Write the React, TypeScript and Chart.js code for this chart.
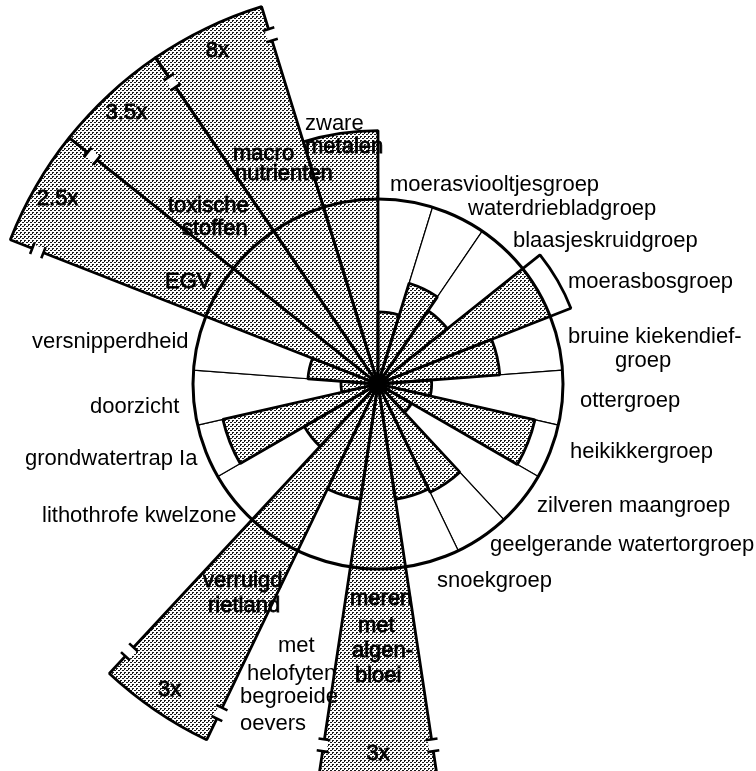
import React, { useEffect, useRef } from "react";
import { Chart, registerables } from "chart.js";

Chart.register(...registerables);

// Categories, clockwise starting at the top (12 o'clock)
const groups = [
  "moerasviooltjesgroep",
  "waterdriebladgroep",
  "blaasjeskruidgroep",
  "moerasbosgroep",
  "bruine kiekendiefgroep",
  "ottergroep",
  "heikikkergroep",
  "zilveren maangroep",
  "geelgerande watertorgroep",
  "snoekgroep",
  "meren met algenbloei",
  "met helofyten begroeide oevers",
  "verruigd rietland",
  "lithothrofe kwelzone",
  "grondwatertrap Ia",
  "doorzicht",
  "versnipperdheid",
  "EGV",
  "toxische stoffen",
  "macro nutrienten",
  "zware metalen",
];

// Values relative to the reference level (circle = 1)
const values = [
  0.39, 0.57, 0.48, 1.12, 0.66, 0.29, 0.87, 0.21, 0.65, 0.63,
  3, 0.63, 3, 0.46, 0.86, 0.2, 0.38, 2.5, 3.5, 8, 1.37,
];

// Label text lines per category
const labelLines = [
  ["moerasviooltjesgroep"],
  ["waterdriebladgroep"],
  ["blaasjeskruidgroep"],
  ["moerasbosgroep"],
  ["bruine kiekendief-", "groep"],
  ["ottergroep"],
  ["heikikkergroep"],
  ["zilveren maangroep"],
  ["geelgerande watertorgroep"],
  ["snoekgroep"],
  ["meren", "met", "algen-", "bloei"],
  ["met", "helofyten", "begroeide", "oevers"],
  ["verruigd", "rietland"],
  ["lithothrofe kwelzone"],
  ["grondwatertrap Ia"],
  ["doorzicht"],
  ["versnipperdheid"],
  ["EGV"],
  ["toxische", "stoffen"],
  ["macro", "nutrienten"],
  ["zware", "metalen"],
];

// Categories whose part beyond the reference circle is drawn unshaded
const unshadedOverflow = ["moerasbosgroep"];

const REFERENCE = 1;
const SCALE_MAX = 2;
const DISPLAY_CAP = 2.135; // bars beyond this are cut with a break mark
const BREAK_AT = 1.975;
const MULTIPLIER_AT = 2.0;

// ---- layout (pixel anchors for label lines: left x, baseline y) ----
const labelAnchors = [
  [[390, 191]],
  [[468, 215]],
  [[513, 247]],
  [[568, 288]],
  [[568, 343], [615, 367]],
  [[580, 407]],
  [[570, 458]],
  [[537, 512]],
  [[490, 551]],
  [[437, 587]],
  [[350, 605], [358, 632], [352, 657], [355, 682]],
  [[278, 652], [247, 680], [240, 703], [240, 730]],
  [[203, 587], [208, 612]],
  [[42, 522]],
  [[25, 465]],
  [[90, 413]],
  [[32, 348]],
  [[165, 288]],
  [[168, 212], [182, 235]],
  [[233, 160], [235, 180]],
  [[305, 130], [305, 153]],
];

const FONT_FAMILY = '"Liberation Sans", Arial, Helvetica, sans-serif';
const FONT_SIZE = 22;

function makeHalftone(ctx: CanvasRenderingContext2D) {
  const c = document.createElement("canvas");
  c.width = 4;
  c.height = 4;
  const g = c.getContext("2d")!;
  g.fillStyle = "#ffffff";
  g.fillRect(0, 0, 4, 4);
  g.fillStyle = "#1a1a1a";
  [
    [0, 0],
    [1, 0],
    [0, 1],
    [2, 2],
    [3, 2],
  ].forEach(([x, y]) => g.fillRect(x, y, 1, 1));
  return ctx.createPattern(c, "repeat")!;
}

function makeAnnotationPlugin(shaded: number[]) {
  return {
    id: "amoebeAnnotations",
    afterDatasetsDraw(chart: any) {
      const ctx: CanvasRenderingContext2D = chart.ctx;
      const s = chart.scales.r;
      const cx = s.xCenter;
      const cy = s.yCenter;
      const n = groups.length;
      const step = (2 * Math.PI) / n;
      const start = s.getIndexAngle(0) - Math.PI / 2;

      // break marks on bars that exceed the display cap
      const rb = s.getDistanceFromCenterForValue(BREAK_AT);
      const gap = 6;
      values.forEach((v, i) => {
        if (v <= DISPLAY_CAP) return;
        [start + i * step, start + (i + 1) * step].forEach((a) => {
          ctx.save();
          ctx.translate(cx, cy);
          ctx.rotate(a);
          ctx.fillStyle = "#fff";
          ctx.fillRect(rb - gap, -4, 2 * gap, 8);
          ctx.strokeStyle = "#000";
          ctx.lineWidth = 2.6;
          ctx.beginPath();
          ctx.moveTo(rb - gap, -6);
          ctx.lineTo(rb - gap, 6);
          ctx.moveTo(rb + gap, -6);
          ctx.lineTo(rb + gap, 6);
          ctx.stroke();
          ctx.restore();
        });
      });

      // multiplier labels (e.g. "8x")
      const rm = s.getDistanceFromCenterForValue(MULTIPLIER_AT);
      ctx.save();
      ctx.fillStyle = "#000";
      ctx.strokeStyle = "#000";
      ctx.lineWidth = 0.8;
      ctx.textAlign = "center";
      ctx.textBaseline = "middle";
      ctx.font = `${FONT_SIZE}px ${FONT_FAMILY}`;
      values.forEach((v, i) => {
        if (v <= DISPLAY_CAP) return;
        const a = start + (i + 0.5) * step;
        const x = cx + rm * Math.cos(a);
        const y = cy + rm * Math.sin(a);
        ctx.fillText(`${v}x`, x, y);
        ctx.strokeText(`${v}x`, x, y);
      });
      ctx.restore();

      // category labels; heavier when lying on a shaded bar
      const onShade = (x: number, y: number) => {
        const dx = x - cx;
        const dy = y - cy;
        const r = Math.hypot(dx, dy);
        let a = Math.atan2(dy, dx) - start;
        a = ((a % (2 * Math.PI)) + 2 * Math.PI) % (2 * Math.PI);
        const idx = Math.floor(a / step) % n;
        return r < s.getDistanceFromCenterForValue(shaded[idx]);
      };
      ctx.save();
      ctx.fillStyle = "#000";
      ctx.strokeStyle = "#000";
      ctx.lineWidth = 0.8;
      ctx.textAlign = "left";
      ctx.textBaseline = "alphabetic";
      ctx.font = `${FONT_SIZE}px ${FONT_FAMILY}`;
      labelLines.forEach((lines, i) => {
        lines.forEach((txt, j) => {
          const [x, y] = labelAnchors[i][j];
          const w = ctx.measureText(txt).width;
          ctx.fillText(txt, x, y);
          if (onShade(x + w / 2, y - 7)) ctx.strokeText(txt, x, y);
        });
      });
      ctx.restore();
    },
  };
}

export default function App() {
  const ref = useRef<HTMLCanvasElement>(null);

  useEffect(() => {
    const canvas = ref.current;
    if (!canvas) return;
    const ctx = canvas.getContext("2d")!;
    const pattern = makeHalftone(ctx);

    const displayed = values.map((v) => Math.min(v, DISPLAY_CAP));
    const shaded = values.map((v, i) =>
      unshadedOverflow.includes(groups[i]) ? Math.min(v, REFERENCE) : Math.min(v, DISPLAY_CAP)
    );

    const chart = new Chart(canvas, {
      type: "polarArea",
      data: {
        labels: groups,
        datasets: [
          {
            label: "outline",
            data: displayed,
            backgroundColor: "rgba(0,0,0,0)",
            borderColor: "#000",
            borderWidth: 2.8,
            clip: false,
          },
          {
            label: "shaded",
            data: shaded,
            backgroundColor: pattern,
            borderWidth: 0,
            clip: false,
          },
          {
            label: "reference",
            data: groups.map(() => REFERENCE),
            backgroundColor: "#fff",
            borderColor: "#000",
            borderWidth: 1.2,
            clip: false,
          },
        ],
      } as any,
      options: {
        responsive: false,
        animation: false,
        devicePixelRatio: 1,
        events: [],
        layout: { padding: { left: 8, right: 8, top: 14, bottom: 17 } },
        plugins: {
          legend: { display: false },
          tooltip: { enabled: false },
        },
        scales: {
          r: {
            min: 0,
            max: SCALE_MAX,
            startAngle: 0,
            ticks: { display: false, stepSize: 1 },
            angleLines: { display: false },
            pointLabels: { display: false },
            grid: {
              z: 1,
              circular: true,
              color: (c: any) => (c.tick && c.tick.value === REFERENCE ? "#000" : "rgba(0,0,0,0)"),
              lineWidth: (c: any) => (c.tick && c.tick.value === REFERENCE ? 3 : 0),
            },
          },
        },
      } as any,
      plugins: [makeAnnotationPlugin(shaded)],
    });

    return () => chart.destroy();
  }, []);

  return (
    <div style={{ position: "absolute", left: 0, top: 0, width: 756, height: 771, background: "#fff" }}>
      <canvas ref={ref} width={756} height={771} style={{ width: 756, height: 771, display: "block" }} />
    </div>
  );
}
